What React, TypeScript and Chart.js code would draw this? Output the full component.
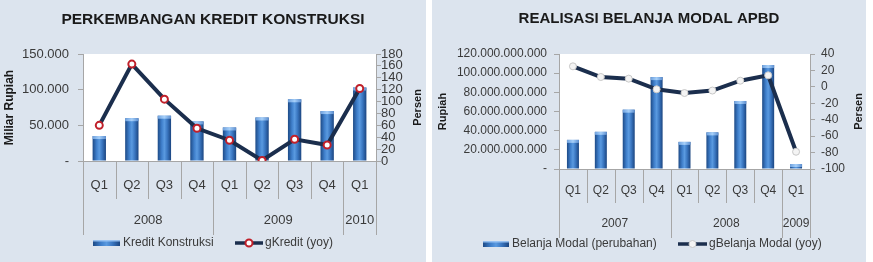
import React, { useEffect, useRef } from 'react';
import { Chart, registerables } from 'chart.js';

Chart.register(...registerables);

// ---------- DATA ----------
const quarters = ['Q1', 'Q2', 'Q3', 'Q4', 'Q1', 'Q2', 'Q3', 'Q4', 'Q1'];

const kreditYears = ['2008', '2009', '2010'];
const kreditYearSpans = [4, 4, 1];
const kreditKonstruksi = [35000, 60000, 63500, 55500, 47000, 61000, 86500, 70000, 103000];
const gKredit = [60, 163, 104, 55, 35, 1, 36.5, 27, 122];

const belanjaYears = ['2007', '2008', '2009'];
const belanjaYearSpans = [4, 4, 1];
const belanjaModal = [30.4e9, 38.8e9, 61.9e9, 95.9e9, 28.3e9, 38.2e9, 71e9, 108.5e9, 5.2e9];
const gBelanja = [25, 12, 10, -3, -7.5, -4.5, 7.5, 14, -79];

// ---------- HELPERS ----------
const FONT = "'Liberation Sans', Arial, sans-serif";
const AXIS = '#a6a6a6';
const TXT = '#3a3a3a';
const NAVY = '#1b2e4d';

const fmtDots = (v: number) =>
  v === 0 ? '-' : Math.round(v).toString().replace(/\B(?=(\d{3})+(?!\d))/g, '.');

function barGradient(ctx: CanvasRenderingContext2D, x0: number, x1: number) {
  const g = ctx.createLinearGradient(x0, 0, x1, 0);
  g.addColorStop(0, '#1d4a86');
  g.addColorStop(0.3, '#3f7fcb');
  g.addColorStop(0.5, '#5a9ae0');
  g.addColorStop(0.72, '#3a76c0');
  g.addColorStop(1, '#1b4580');
  return g;
}

const decorPlugin = {
  id: 'decor',
  beforeDraw(chart: any) {
    const { ctx, chartArea } = chart;
    ctx.save();
    ctx.fillStyle = '#ffffff';
    ctx.fillRect(chartArea.left, chartArea.top, chartArea.right - chartArea.left, chartArea.bottom - chartArea.top);
    ctx.restore();
  },
  afterDatasetDraw(chart: any, args: any) {
    const meta = args.meta;
    if (meta.type !== 'bar') return;
    const ctx = chart.ctx;
    ctx.save();
    meta.data.forEach((bar: any) => {
      const w = bar.width;
      const x0 = bar.x - w / 2;
      const g = ctx.createLinearGradient(x0, 0, x0 + w, 0);
      g.addColorStop(0, 'rgba(120,170,230,0.9)');
      g.addColorStop(0.5, 'rgba(170,210,250,0.95)');
      g.addColorStop(1, 'rgba(100,150,215,0.9)');
      ctx.fillStyle = g;
      const h = Math.min(3, Math.abs(bar.base - bar.y));
      ctx.fillRect(x0, bar.y, w, h);
    });
    ctx.restore();
  },
  afterDraw(chart: any, _args: any, o: any) {
    const { ctx, chartArea, scales } = chart;
    const xs = scales.x;
    const n = quarters.length;
    const catW = (xs.right - xs.left) / n;
    ctx.save();
    // title
    ctx.fillStyle = '#1a1a1a';
    ctx.font = `bold ${o.titleSize}px ${FONT}`;
    ctx.textAlign = 'center';
    ctx.textBaseline = 'middle';
    ctx.fillText(o.title, chart.width / 2, o.titleY);

    // separators
    const longIdx = new Set<number>();
    let acc = 0;
    longIdx.add(0);
    o.spans.forEach((s: number) => {
      acc += s;
      longIdx.add(acc);
    });
    ctx.strokeStyle = AXIS;
    ctx.lineWidth = 1;
    for (let i = 0; i <= n; i++) {
      const x = Math.round(xs.left + i * catW) + 0.5;
      ctx.beginPath();
      ctx.moveTo(x, chartArea.bottom);
      ctx.lineTo(x, longIdx.has(i) ? o.longY : o.shortY);
      ctx.stroke();
    }
    // years
    ctx.fillStyle = TXT;
    ctx.font = `${o.tickSize}px ${FONT}`;
    ctx.textAlign = 'center';
    let start = 0;
    o.years.forEach((y: string, k: number) => {
      const s = o.spans[k];
      const cx = xs.left + (start + s / 2) * catW;
      ctx.fillText(y, cx, o.yearY);
      start += s;
    });

    // axis titles (both read bottom-to-top)
    ctx.fillStyle = '#1a1a1a';
    const midY = (chartArea.top + chartArea.bottom) / 2;
    [
      [o.leftTitle, o.leftTitleX, o.leftTitleSize || o.axisTitleSize],
      [o.rightTitle, o.rightTitleX, o.axisTitleSize],
    ].forEach(([t, x, sz]: any) => {
      ctx.save();
      ctx.font = `bold ${sz}px ${FONT}`;
      ctx.translate(x, midY);
      ctx.rotate(-Math.PI / 2);
      ctx.textAlign = 'center';
      ctx.textBaseline = 'middle';
      ctx.fillText(t, 0, 0);
      ctx.restore();
    });

    // legend
    const L = o.legend;
    const ly = L.y;
    ctx.fillStyle = barGradient(ctx, L.barX, L.barX + L.barW);
    ctx.fillRect(L.barX, ly - 3, L.barW, 6);
    ctx.fillStyle = 'rgba(160,200,245,0.9)';
    ctx.fillRect(L.barX, ly - 3, L.barW, 1.5);
    ctx.fillStyle = TXT;
    ctx.font = `${L.size}px ${FONT}`;
    ctx.textAlign = 'left';
    ctx.textBaseline = 'middle';
    ctx.fillText(L.barLabel, L.barX + L.barW + 3, ly);
    ctx.strokeStyle = NAVY;
    ctx.lineWidth = 3.5;
    ctx.beginPath();
    ctx.moveTo(L.lineX, ly);
    ctx.lineTo(L.lineX + L.lineW, ly);
    ctx.stroke();
    ctx.beginPath();
    ctx.arc(L.lineX + L.lineW / 2, ly, 3.5, 0, Math.PI * 2);
    ctx.fillStyle = o.pointFill;
    ctx.fill();
    ctx.lineWidth = o.pointBorderWidth;
    ctx.strokeStyle = o.pointBorder;
    ctx.stroke();
    ctx.fillStyle = TXT;
    ctx.fillText(L.lineLabel, L.lineX + L.lineW + 2, ly);
    ctx.restore();
  },
};

function buildConfig(p: any) {
  const barPct = p.barPct;
  return {
    type: 'bar',
    data: {
      labels: quarters,
      datasets: [
        {
          type: 'line',
          label: p.lineLabel,
          data: p.line,
          yAxisID: 'y1',
          borderColor: NAVY,
          borderWidth: 4,
          pointRadius: 3.5,
          pointBackgroundColor: p.pointFill,
          pointBorderColor: p.pointBorder,
          pointBorderWidth: p.pointBorderWidth,
          tension: 0,
          order: 0,
        },
        {
          type: 'bar',
          label: p.barLabel,
          data: p.bars,
          yAxisID: 'y',
          barPercentage: barPct,
          categoryPercentage: 1,
          borderWidth: 0,
          backgroundColor: (c: any) => {
            const chart = c.chart;
            const xs = chart.scales && chart.scales.x;
            if (!xs || c.dataIndex == null || !isFinite(xs.left)) return '#3a78c4';
            const cx = xs.getPixelForValue(c.dataIndex);
            const w = ((xs.right - xs.left) / quarters.length) * barPct;
            return barGradient(chart.ctx, cx - w / 2, cx + w / 2);
          },
          order: 1,
        },
      ],
    },
    options: {
      responsive: false,
      animation: false,
      events: [],
      layout: { padding: { top: p.top, left: 0, right: 0, bottom: 0 } },
      plugins: {
        legend: { display: false },
        tooltip: { enabled: false },
        title: { display: false },
        decor: p.decor,
      },
      scales: {
        x: {
          offset: true,
          grid: { display: false },
          border: { display: true, color: AXIS },
          ticks: {
            color: TXT,
            font: { family: FONT, size: p.tickSize },
            padding: p.xTickPad,
            autoSkip: false,
            maxRotation: 0,
          },
          afterFit: (s: any) => {
            s.height = p.H - p.bottom;
          },
        },
        y: {
          position: 'left',
          min: 0,
          max: p.yMax,
          ticks: {
            stepSize: p.yStep,
            callback: (v: any) => fmtDots(Number(v)),
            autoSkip: false,
            padding: p.yPad,
            color: TXT,
            font: { family: FONT, size: p.yTickSize },
          },
          grid: { drawOnChartArea: false, color: AXIS, tickLength: 5 },
          border: { color: AXIS },
          afterFit: (s: any) => {
            s.width = p.left;
          },
        },
        y1: {
          position: 'right',
          min: p.y1Min,
          max: p.y1Max,
          ticks: {
            stepSize: 20,
            autoSkip: false,
            padding: p.y1Pad,
            color: TXT,
            font: { family: FONT, size: p.y1TickSize },
          },
          grid: { drawOnChartArea: false, color: AXIS, tickLength: 5 },
          border: { color: AXIS },
          afterFit: (s: any) => {
            s.width = p.W - p.right;
          },
        },
      },
    },
    plugins: [decorPlugin],
  };
}

function ChartPanel({ params, left, width }: { params: any; left: number; width: number }) {
  const ref = useRef<HTMLCanvasElement | null>(null);
  useEffect(() => {
    if (!ref.current) return;
    const chart = new Chart(ref.current, buildConfig(params) as any);
    return () => chart.destroy();
  }, []);
  return (
    <div
      style={{
        position: 'absolute',
        left,
        top: 0,
        width,
        height: 262,
        background: '#dce4ee',
      }}
    >
      <canvas ref={ref} width={width} height={262} style={{ display: 'block', width, height: 262 }} />
    </div>
  );
}

const kreditParams = {
  W: 426,
  H: 262,
  top: 54,
  bottom: 161,
  left: 83,
  right: 376,
  barPct: 0.41,
  bars: kreditKonstruksi,
  line: gKredit,
  barLabel: 'Kredit Konstruksi',
  lineLabel: 'gKredit (yoy)',
  pointFill: '#ffffff',
  pointBorder: '#c0202a',
  pointBorderWidth: 2,
  yMax: 150000,
  yStep: 50000,
  y1Min: 0,
  y1Max: 180,
  tickSize: 13,
  yTickSize: 13,
  y1TickSize: 13,
  xTickPad: 9,
  yPad: 9,
  y1Pad: 0,
  decor: {
    title: 'PERKEMBANGAN KREDIT KONSTRUKSI',
    titleSize: 15.5,
    titleY: 20,
    spans: kreditYearSpans,
    years: kreditYears,
    yearY: 220,
    shortY: 199,
    longY: 235,
    tickSize: 13,
    leftTitle: 'Miliar Rupiah',
    leftTitleX: 10,
    leftTitleSize: 12,
    rightTitle: 'Persen',
    rightTitleX: 418,
    axisTitleSize: 11,
    pointFill: '#ffffff',
    pointBorder: '#c0202a',
    pointBorderWidth: 2,
    legend: {
      y: 243,
      size: 12,
      barX: 93,
      barW: 27,
      barLabel: 'Kredit Konstruksi',
      lineX: 235,
      lineW: 28,
      lineLabel: 'gKredit (yoy)',
    },
  },
};

const belanjaParams = {
  W: 434,
  H: 262,
  top: 54,
  bottom: 169,
  left: 127,
  right: 378,
  barPct: 0.43,
  bars: belanjaModal,
  line: gBelanja,
  barLabel: 'Belanja Modal (perubahan)',
  lineLabel: 'gBelanja Modal (yoy)',
  pointFill: '#f4f4f4',
  pointBorder: '#c8c8c8',
  pointBorderWidth: 1,
  yMax: 120e9,
  yStep: 20e9,
  y1Min: -100,
  y1Max: 40,
  tickSize: 12,
  yTickSize: 12,
  y1TickSize: 12,
  xTickPad: 6,
  yPad: 7,
  y1Pad: 6,
  decor: {
    title: 'REALISASI BELANJA MODAL APBD',
    titleSize: 15,
    titleY: 19,
    spans: belanjaYearSpans,
    years: belanjaYears,
    yearY: 224,
    shortY: 203,
    longY: 238,
    tickSize: 12,
    leftTitle: 'Rupiah',
    leftTitleX: 11,
    rightTitle: 'Persen',
    rightTitleX: 427,
    axisTitleSize: 11,
    pointFill: '#f4f4f4',
    pointBorder: '#c8c8c8',
    pointBorderWidth: 1,
    legend: {
      y: 244,
      size: 12,
      barX: 51,
      barW: 26,
      barLabel: 'Belanja Modal (perubahan)',
      lineX: 246,
      lineW: 29,
      lineLabel: 'gBelanja Modal (yoy)',
    },
  },
};

export default function App() {
  return (
    <div style={{ position: 'fixed', left: 0, top: 0, width: 873, height: 262, background: '#ffffff' }}>
      <ChartPanel params={kreditParams} left={0} width={426} />
      <ChartPanel params={belanjaParams} left={432} width={434} />
    </div>
  );
}
